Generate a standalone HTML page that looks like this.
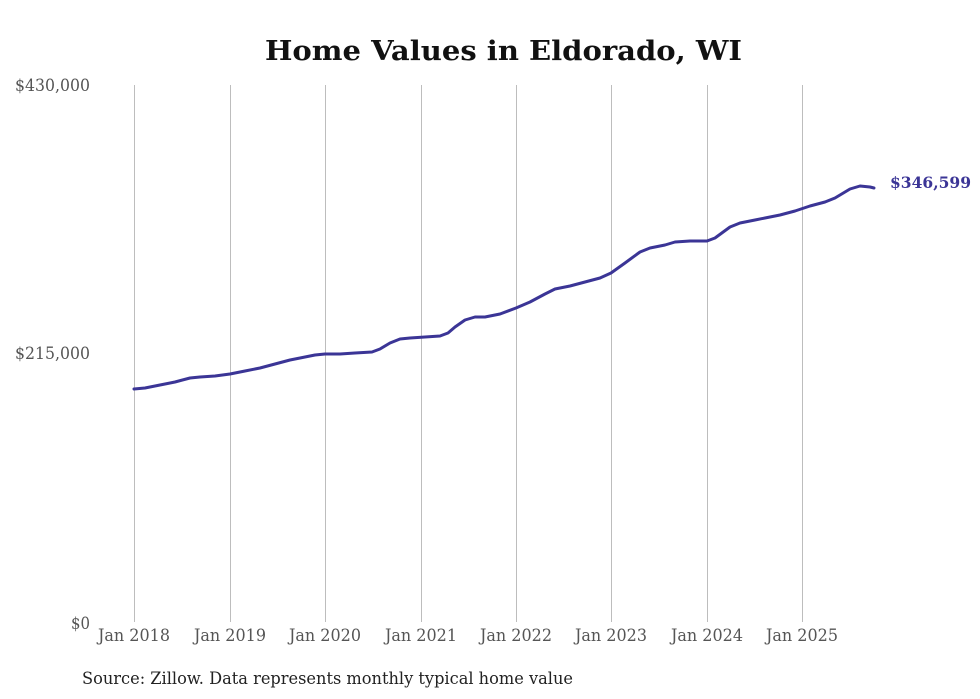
<!DOCTYPE html>
<html><head><meta charset="utf-8"><style>
html,body{margin:0;padding:0;background:#fff;}
svg{display:block;}
text{font-family:"DejaVu Serif","Liberation Serif",serif;}
</style></head><body>
<svg width="980" height="699" viewBox="0 0 980 699" xmlns="http://www.w3.org/2000/svg">
<rect width="980" height="699" fill="#fff"/>
<text x="265" y="60" textLength="477" lengthAdjust="spacingAndGlyphs" font-size="27" font-weight="bold" fill="#111">Home Values in Eldorado, WI</text>
<g stroke="#bdbdbd" stroke-width="1">
<line x1="134.5" y1="85" x2="134.5" y2="622"/>
<line x1="230.5" y1="85" x2="230.5" y2="622"/>
<line x1="325.5" y1="85" x2="325.5" y2="622"/>
<line x1="421.5" y1="85" x2="421.5" y2="622"/>
<line x1="516.5" y1="85" x2="516.5" y2="622"/>
<line x1="611.5" y1="85" x2="611.5" y2="622"/>
<line x1="707.5" y1="85" x2="707.5" y2="622"/>
<line x1="802.5" y1="85" x2="802.5" y2="622"/>
</g>
<g font-size="17" fill="#555">
<text x="15" y="91" textLength="75" lengthAdjust="spacingAndGlyphs">$430,000</text>
<text x="15" y="359" textLength="75" lengthAdjust="spacingAndGlyphs">$215,000</text>
<text x="71" y="629" textLength="19" lengthAdjust="spacingAndGlyphs">$0</text>
<text x="98" y="641" textLength="72" lengthAdjust="spacingAndGlyphs">Jan 2018</text>
<text x="194" y="641" textLength="72" lengthAdjust="spacingAndGlyphs">Jan 2019</text>
<text x="289" y="641" textLength="72" lengthAdjust="spacingAndGlyphs">Jan 2020</text>
<text x="385" y="641" textLength="72" lengthAdjust="spacingAndGlyphs">Jan 2021</text>
<text x="480" y="641" textLength="72" lengthAdjust="spacingAndGlyphs">Jan 2022</text>
<text x="575" y="641" textLength="72" lengthAdjust="spacingAndGlyphs">Jan 2023</text>
<text x="671" y="641" textLength="72" lengthAdjust="spacingAndGlyphs">Jan 2024</text>
<text x="766" y="641" textLength="72" lengthAdjust="spacingAndGlyphs">Jan 2025</text>
</g>
<polyline fill="none" stroke="#3b3596" stroke-width="3" stroke-linejoin="round" stroke-linecap="round" points="134,389 145,388 160,385 175,382 190,378 200,377 215,376 230,374 245,371 260,368 275,364 290,360 305,357 315,355 325,354 340,354 355,353 372,352 380,349 390,343 400,339 410,338 425,337 440,336 448,333 455,327 465,320 475,317 485,317 500,314 516,308 530,302 545,294 555,289 570,286 585,282 600,278 611,273 625,263 640,252 650,248 665,245 675,242 690,241 707,241 715,238 730,227 740,223 755,220 765,218 780,215 795,211 810,206 825,202 835,198 850,189 860,186 870,187 874,188"/>
<text x="890" y="188" textLength="81" lengthAdjust="spacingAndGlyphs" font-size="16" font-weight="bold" fill="#3b3596">$346,599</text>
<text x="82" y="684" textLength="491" lengthAdjust="spacingAndGlyphs" font-size="17" fill="#222">Source: Zillow. Data represents monthly typical home value</text>
</svg>
</body></html>
